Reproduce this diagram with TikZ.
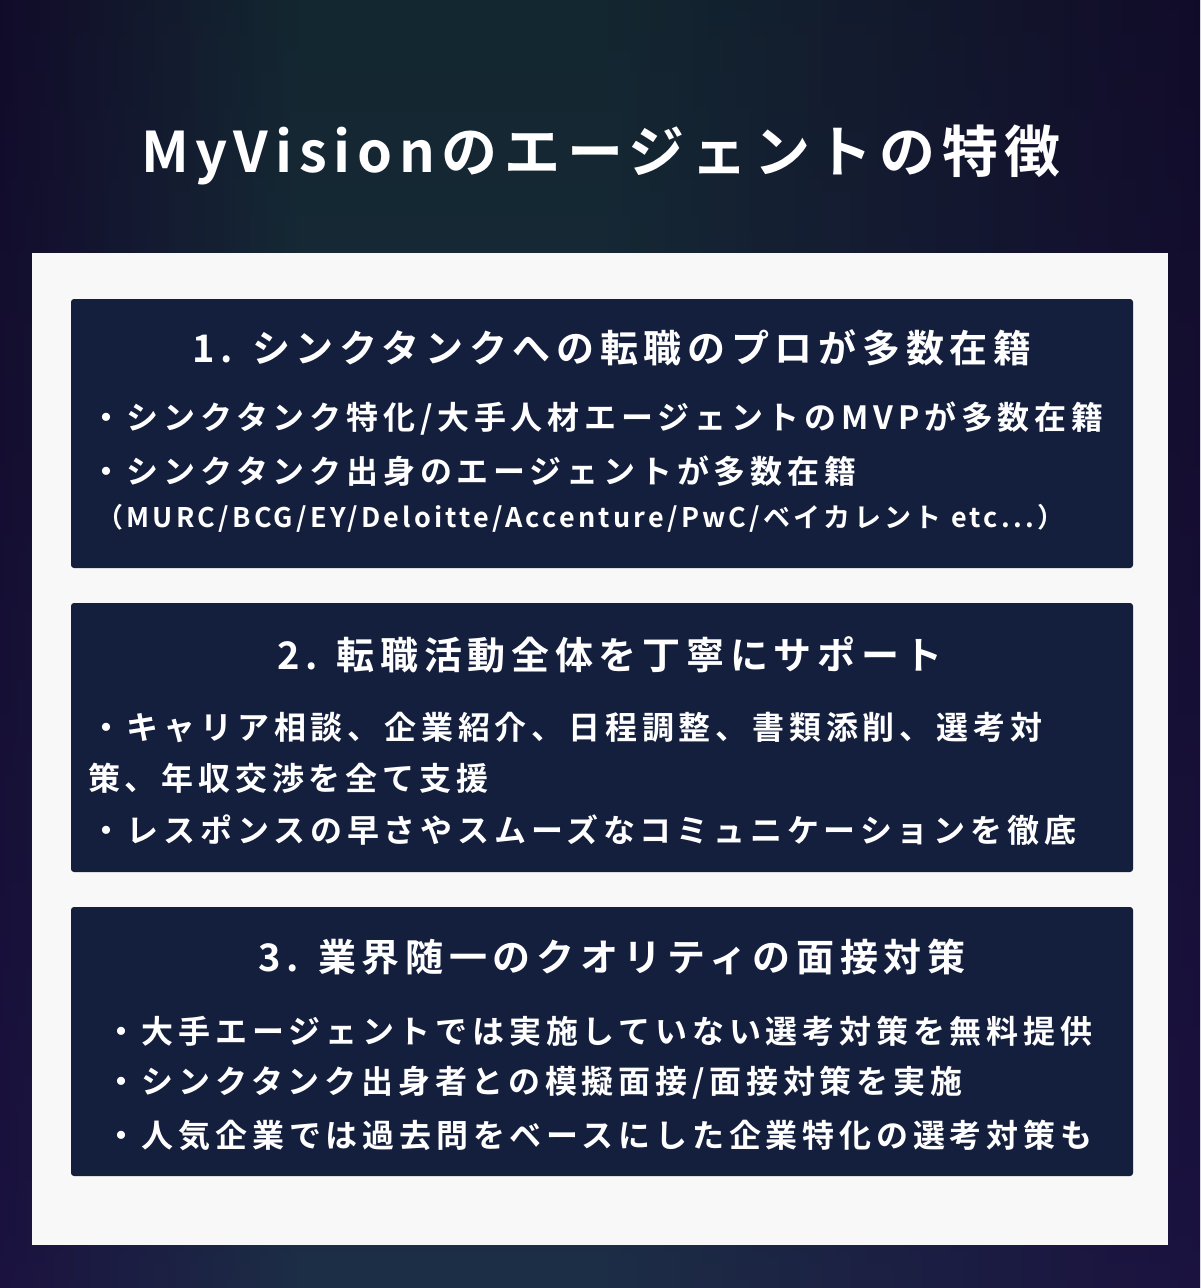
\documentclass[tikz,border=0pt]{standalone}
\usepackage{fontspec}
\setmainfont{Noto Sans CJK JP Bold}
\newfontfamily\spA[LetterSpace=12]{Noto Sans CJK JP Bold}
\newfontfamily\spB[LetterSpace=15]{Noto Sans CJK JP Bold}
\newfontfamily\spC[LetterSpace=12]{Noto Sans CJK JP Bold}
\definecolor{bgedge}{HTML}{1B1240}
\definecolor{bgmid}{HTML}{1E3C4A}
\definecolor{panel}{HTML}{F8F8F8}
\definecolor{boxc}{HTML}{141E3D}
\begin{document}
\begin{tikzpicture}[x=1pt,y=-1pt,
  box/.style={fill=boxc,rounded corners=3pt},
  head/.style={text=white,font=\spB\fontsize{38}{40}\selectfont,anchor=center},
  item/.style={text=white,font=\spB\fontsize{32}{34}\selectfont,anchor=west,inner sep=0pt},
  small/.style={text=white,font=\spC\fontsize{27}{29}\selectfont,anchor=west,inner sep=0pt}]
\useasboundingbox (0,0) rectangle (1200,1288);
\shade[left color=bgedge,right color=bgmid,middle color=bgmid] (0,0) rectangle (600,1288);
\shade[left color=bgmid,right color=bgedge] (600,0) rectangle (1200,1288);
\shade[top color=bgedge!0!black,bottom color=bgedge,opacity=0.35] (0,0) rectangle (1200,1288);
\fill[panel] (32,253) rectangle (1168,1245);
\node[text=white,font=\spA\fontsize{56}{60}\selectfont] (title) at (601,155) {MyVisionのエージェントの特徴};
\fill[box] (71,299) rectangle (1133,568);
\fill[box] (71,603) rectangle (1133,872);
\fill[box] (71,907) rectangle (1133,1176);
\node[head] (h1) at (612,348) {1. シンクタンクへの転職のプロが多数在籍};
\node[item] (a1) at (90,419) {・シンクタンク特化/大手人材エージェントのMVPが多数在籍};
\node[item] (a2) at (90,471) {・シンクタンク出身のエージェントが多数在籍};
\node[small] (a3) at (96,518) {（MURC/BCG/EY/Deloitte/Accenture/PwC/ベイカレント etc...）};
\node[head] (h2) at (610,655) {2. 転職活動全体を丁寧にサポート};
\node[item] (b1) at (90,727) {・キャリア相談、企業紹介、日程調整、書類添削、選考対};
\node[item] (b2) at (88,778) {策、年収交渉を全て支援};
\node[item] (b3) at (90,830) {・レスポンスの早さやスムーズなコミュニケーションを徹底};
\node[head] (h3) at (612,957) {3. 業界随一のクオリティの面接対策};
\node[item] (c1) at (105,1031) {・大手エージェントでは実施していない選考対策を無料提供};
\node[item] (c2) at (105,1083) {・シンクタンク出身者との模擬面接/面接対策を実施};
\node[item] (c3) at (105,1135) {・人気企業では過去問をベースにした企業特化の選考対策も};
\end{tikzpicture}
\end{document}
